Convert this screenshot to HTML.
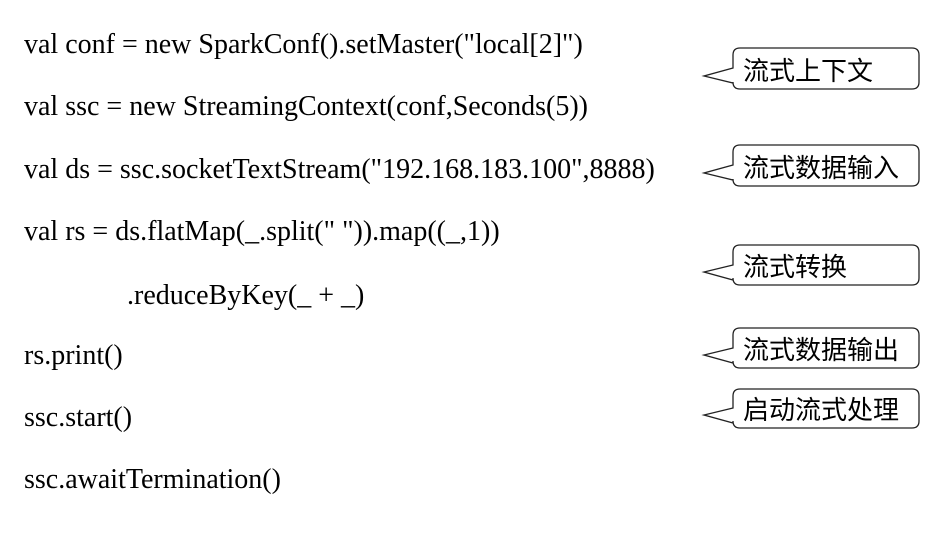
<!DOCTYPE html>
<html><head><meta charset="utf-8"><style>
html,body{margin:0;padding:0;background:#fff;}
body{width:941px;height:538px;overflow:hidden;position:relative;}
.c{position:absolute;left:24px;font-family:"Liberation Serif",serif;font-size:28px;color:#000;white-space:pre;line-height:1;}
svg{position:absolute;left:0;top:0;}
</style></head><body>
<div class="c" style="top:31px">val conf = new SparkConf().setMaster("local[2]")</div>
<div class="c" style="top:93px">val ssc = new StreamingContext(conf,Seconds(5))</div>
<div class="c" style="top:156px">val ds = ssc.socketTextStream("192.168.183.100",8888)</div>
<div class="c" style="top:218px">val rs = ds.flatMap(_.split(" ")).map((_,1))</div>
<div class="c" style="top:282px;left:127px">.reduceByKey(_ + _)</div>
<div class="c" style="top:342px">rs.print()</div>
<div class="c" style="top:404px">ssc.start()</div>
<div class="c" style="top:466px">ssc.awaitTermination()</div>
<svg width="941" height="538" xmlns="http://www.w3.org/2000/svg">
<g fill="#fff" stroke="#222" stroke-width="1.3" font-family="Noto Sans CJK SC, sans-serif" font-size="26">
<path d="M740,48 H912 Q919,48 919,55 V82 Q919,89 912,89 H740 Q733,89 733,82 V83 L704,76 L733,68 V55 Q733,48 740,48 Z"/>
<path d="M740,145 H912 Q919,145 919,152 V179 Q919,186 912,186 H740 Q733,186 733,179 V180 L704,173 L733,165 V152 Q733,145 740,145 Z"/>
<path d="M740,245 H912 Q919,245 919,252 V278 Q919,285 912,285 H740 Q733,285 733,278 V280 L704,272 L733,265 V252 Q733,245 740,245 Z"/>
<path d="M740,328 H912 Q919,328 919,335 V361 Q919,368 912,368 H740 Q733,368 733,361 V363 L704,355 L733,348 V335 Q733,328 740,328 Z"/>
<path d="M740,389 H912 Q919,389 919,396 V421 Q919,428 912,428 H740 Q733,428 733,421 V423 L704,415 L733,408 V396 Q733,389 740,389 Z"/>
<g fill="#000" stroke="none">
<text x="743" y="80">流式上下文</text>
<text x="743" y="177">流式数据输入</text>
<text x="743" y="276">流式转换</text>
<text x="743" y="359">流式数据输出</text>
<text x="743" y="419">启动流式处理</text>
</g></g></svg>
</body></html>
